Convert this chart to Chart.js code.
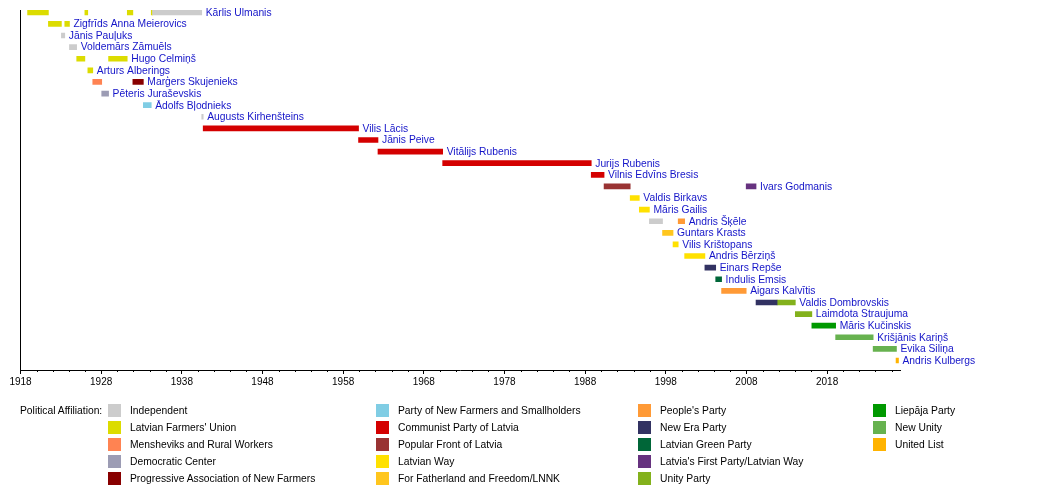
<!DOCTYPE html>
<html>
<head>
<meta charset="utf-8">
<title>Prime Ministers of Latvia</title>
<script src="https://cdn.jsdelivr.net/npm/chart.js@4.4.0/dist/chart.umd.min.js"></script>
<style>
  html, body { margin: 0; padding: 0; background: #fff; }
  #wrap { position: relative; width: 1050px; height: 489px; font-family: "Liberation Sans", Arial, sans-serif; }
  #chartBox { position: absolute; left: 0; top: 0; width: 1050px; height: 400px; }
  #legend { position: absolute; left: 0; top: 0; width: 1050px; height: 489px; pointer-events: none; }
  .lg-title, .lg-text { position: absolute; font-size: 10.3px; line-height: 13px; color: #000; white-space: nowrap; }
  .lg-sw { position: absolute; width: 13px; height: 13px; }
</style>
</head>
<body>
<div id="wrap">
  <div id="chartBox"><canvas id="pmChart"></canvas></div>
  <div id="legend"></div>
</div>
<script>
// --- data ---
const names = [
  'Kārlis Ulmanis', 'Zigfrīds Anna Meierovics', 'Jānis Pauļuks', 'Voldemārs Zāmuēls',
  'Hugo Celmiņš', 'Arturs Alberings', 'Marģers Skujenieks', 'Pēteris Juraševskis',
  'Ādolfs Bļodnieks', 'Augusts Kirhenšteins', 'Vilis Lācis', 'Jānis Peive',
  'Vitālijs Rubenis', 'Jurijs Rubenis', 'Vilnis Edvīns Bresis', 'Ivars Godmanis',
  'Valdis Birkavs', 'Māris Gailis', 'Andris Šķēle', 'Guntars Krasts',
  'Vilis Krištopans', 'Andris Bērziņš', 'Einars Repše', 'Indulis Emsis',
  'Aigars Kalvītis', 'Valdis Dombrovskis', 'Laimdota Straujuma', 'Māris Kučinskis',
  'Krišjānis Kariņš', 'Evika Siliņa', 'Andris Kulbergs'
];

const parties = [
  'Independent', "Latvian Farmers' Union", 'Mensheviks and Rural Workers', 'Democratic Center',
  'Progressive Association of New Farmers', 'Party of New Farmers and Smallholders',
  'Communist Party of Latvia', 'Popular Front of Latvia', 'Latvian Way',
  'For Fatherland and Freedom/LNNK', "People's Party", 'New Era Party', 'Latvian Green Party',
  "Latvia's First Party/Latvian Way", 'Unity Party', 'Liepāja Party', 'New Unity', 'United List'
];

const partyColors = [
  '#cccccc', '#dcdc00', '#ff8352', '#9c9cb4', '#880000', '#80cde4',
  '#d40000', '#993333', '#ffe100', '#ffc61e', '#ff9a36', '#323262',
  '#006638', '#66327f', '#83b11c', '#009900', '#67b24f', '#ffb300'
];

// one entry per term: person index, start year, end year, party index
const termPerson = [0, 0, 0, 0, 0, 1, 1, 2, 3, 4, 4, 5, 6, 6, 7, 8, 9, 10, 11, 12, 13, 14,
  15, 15, 16, 17, 18, 18, 19, 20, 21, 22, 23, 24, 25, 25, 26, 27, 28, 29, 30];
const termStart = [1918.88, 1925.98, 1931.24, 1934.21, 1934.37, 1921.46, 1923.49, 1923.07, 1924.07,
  1924.97, 1928.92, 1926.35, 1926.96, 1931.93, 1928.07, 1933.23, 1940.47, 1940.65, 1959.91,
  1962.32, 1970.34, 1988.76, 1990.35, 2007.97, 1993.59, 1994.72, 1995.97, 1999.54, 1997.60,
  1998.90, 2000.34, 2002.85, 2004.19, 2004.92, 2009.19, 2011.80, 2014.06, 2016.11, 2019.06,
  2023.71, 2026.55];
const termEnd = [1921.46, 1926.34, 1931.93, 1934.37, 1940.47, 1923.07, 1924.07, 1923.49, 1924.96,
  1925.98, 1931.23, 1926.96, 1928.07, 1933.23, 1928.92, 1934.21, 1940.65, 1959.91, 1962.32,
  1970.34, 1988.76, 1990.35, 1993.59, 2009.19, 1994.72, 1995.97, 1997.60, 2000.34, 1998.90,
  1999.54, 2002.85, 2004.19, 2004.92, 2007.97, 2011.80, 2014.06, 2016.11, 2019.06, 2023.71,
  2026.60, 2026.85];
const termParty = [1, 1, 1, 1, 0, 1, 1, 0, 0, 1, 1, 1, 2, 4, 3, 5, 0, 6, 6, 6, 6, 6,
  7, 13, 8, 8, 0, 10, 9, 8, 8, 11, 12, 10, 11, 14, 14, 15, 16, 16, 17];

const tickYears = [1918, 1928, 1938, 1948, 1958, 1968, 1978, 1988, 1998, 2008, 2018];
const minorYears = [1920, 1922, 1924, 1926, 1930, 1932, 1934, 1936, 1940, 1942, 1944, 1946,
  1950, 1952, 1954, 1956, 1960, 1962, 1964, 1966, 1970, 1972, 1974, 1976, 1980, 1982, 1984, 1986,
  1990, 1992, 1994, 1996, 2000, 2002, 2004, 2006, 2010, 2012, 2014, 2016, 2020, 2022, 2024, 2026];

// --- build datasets, one per party ---
const datasets = parties.map((p, pi) => {
  const pts = [];
  termParty.forEach((tp, t) => {
    if (tp === pi) pts.push({ x: [termStart[t], termEnd[t]], y: termPerson[t] });
  });
  return {
    label: p,
    data: pts,
    backgroundColor: partyColors[pi],
    borderWidth: 0,
    barThickness: 5,
    grouped: false
  };
});

// name label goes after the last term of each person
const labelAt = names.map((n, i) => {
  let m = -Infinity;
  termPerson.forEach((tp, t) => { if (tp === i) m = Math.max(m, termEnd[t]); });
  return m;
});

const nameLabels = {
  id: 'nameLabels',
  afterDatasetsDraw(chart) {
    const { ctx, scales: { x, y } } = chart;
    ctx.save();
    ctx.font = '10.3px "Liberation Sans", Arial, sans-serif';
    ctx.fillStyle = '#1414c8';
    ctx.textBaseline = 'middle';
    ctx.textAlign = 'left';
    names.forEach((n, i) => {
      ctx.fillText(n, x.getPixelForValue(labelAt[i]) + 4, y.getPixelForValue(i) + 0.5);
    });
    ctx.restore();
  }
};

const minorTicks = {
  id: 'minorTicks',
  afterDraw(chart) {
    const { ctx, scales: { x } } = chart;
    ctx.save();
    ctx.strokeStyle = '#000';
    ctx.lineWidth = 1;
    ctx.beginPath();
    minorYears.forEach(v => {
      const px = Math.round(x.getPixelForValue(v)) + 0.5;
      ctx.moveTo(px, x.top);
      ctx.lineTo(px, x.top + 2);
    });
    ctx.stroke();
    ctx.restore();
  }
};

new Chart(document.getElementById('pmChart'), {
  type: 'bar',
  data: { datasets },
  options: {
    indexAxis: 'y',
    responsive: true,
    maintainAspectRatio: false,
    animation: false,
    layout: { padding: { left: 20.5, right: 149.5, top: 10, bottom: 10 } },
    plugins: { legend: { display: false }, tooltip: { enabled: false } },
    scales: {
      x: {
        type: 'linear',
        min: 1918,
        max: 2027.1,
        afterBuildTicks: scale => { scale.ticks = tickYears.map(v => ({ value: v })); },
        grid: { display: true, drawOnChartArea: false, tickLength: 4, color: '#000' },
        border: { display: true, color: '#000', width: 1 },
        ticks: {
          autoSkip: false, maxRotation: 0, padding: 2, color: '#000',
          font: { family: '"Liberation Sans", Arial, sans-serif', size: 10 },
          callback: v => String(v)
        }
      },
      y: {
        type: 'linear',
        reverse: true,
        offset: false,
        min: -0.2,
        max: 30.82,
        ticks: { display: false },
        grid: { display: false, drawTicks: false },
        border: { display: true, color: '#000', width: 1 }
      }
    }
  },
  plugins: [nameLabels, minorTicks]
});

// --- legend (HTML) ---
const legend = document.getElementById('legend');
const colX = [108, 376, 638, 873];
const rowY = 404;
const rowStep = 16.9;
const title = document.createElement('div');
title.className = 'lg-title';
title.textContent = 'Political Affiliation:';
title.style.left = '20px';
title.style.top = (rowY) + 'px';
legend.appendChild(title);
parties.forEach((p, i) => {
  const c = Math.floor(i / 5), r = i % 5;
  const sw = document.createElement('div');
  sw.className = 'lg-sw';
  sw.style.background = partyColors[i];
  sw.style.left = colX[c] + 'px';
  sw.style.top = (rowY + r * rowStep) + 'px';
  legend.appendChild(sw);
  const tx = document.createElement('div');
  tx.className = 'lg-text';
  tx.textContent = p;
  tx.style.left = (colX[c] + 22) + 'px';
  tx.style.top = (rowY + r * rowStep) + 'px';
  legend.appendChild(tx);
});
</script>
</body>
</html>
